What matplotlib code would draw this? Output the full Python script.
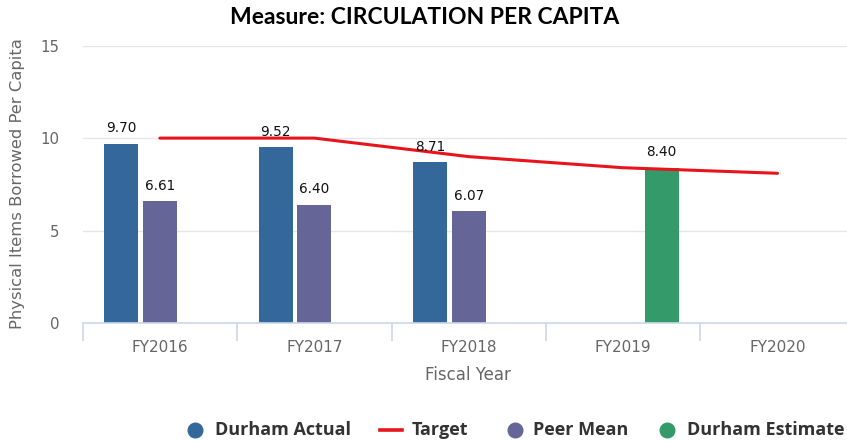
import matplotlib
matplotlib.use("Agg")
import matplotlib.pyplot as plt
from matplotlib.lines import Line2D
import numpy as np

plt.rcParams["font.family"] = ["DejaVu Sans"]

categories = ["FY2016", "FY2017", "FY2018", "FY2019", "FY2020"]
durham_actual = [9.70, 9.52, 8.71, None, None]
peer_mean = [6.61, 6.40, 6.07, None, None]
durham_estimate = [None, None, None, 8.40, None]
target = [10.0, 10.0, 9.0, 8.4, 8.1]
legend_labels = ["Durham Actual", "Target", "Peer Mean", "Durham Estimate"]

c_actual = "#34679a"
c_peer = "#656597"
c_est = "#349a6a"
c_target = "#e8141b"

fig = plt.figure(figsize=(8.47, 4.41), dpi=100)
W, H = 847, 441
left, right, top, bottom = 82.7, 854.7, 45.5, 323.3
ax = fig.add_axes([left / W, 1 - bottom / H, (right - left) / W, (bottom - top) / H])

x = np.arange(len(categories))
bw = 0.22
off = 0.25

def draw_bars(vals, dx, color):
    xs = [xi + dx for xi, v in zip(x, vals) if v is not None]
    vs = [v for v in vals if v is not None]
    ax.bar(xs, vs, width=bw, color=color, zorder=2)
    for xi, v in zip(xs, vs):
        ax.text(xi, v + 0.45, f"{v:.2f}", ha="center", va="bottom",
                fontsize=9.8, color="#111111", zorder=4)

draw_bars(durham_actual, -off, c_actual)
draw_bars(peer_mean, 0, c_peer)
draw_bars(durham_estimate, off, c_est)

ax.plot(x, target, color=c_target, lw=2.2, zorder=3, solid_capstyle="round",
        solid_joinstyle="round")

ax.set_xlim(-0.5, len(categories) - 0.5)
ax.set_ylim(0, 15)
ax.set_yticks([0, 5, 10, 15])
ax.yaxis.grid(True, color="#e6e6e6", lw=1)
ax.set_axisbelow(True)
for s in ["top", "right", "left"]:
    ax.spines[s].set_visible(False)
ax.spines["bottom"].set_color("#ccd6eb")
ax.spines["bottom"].set_linewidth(1.2)

ax.set_xticks(x)
ax.set_xticklabels(categories)
ax.set_xticks(np.arange(len(categories) + 1) - 0.5, minor=True)
ax.tick_params(axis="x", which="major", length=0, pad=12, labelsize=11, labelcolor="#666666")
ax.tick_params(axis="x", which="minor", length=13, color="#ccd6eb", width=1.2)
ax.tick_params(axis="y", length=0, pad=17, labelsize=10.8, labelcolor="#666666")

fig.text(18 / W, 1 - 184 / H, "Physical Items Borrowed Per Capita", rotation=90,
         ha="center", va="center", fontsize=11.8, color="#666666")
fig.text(468 / W, 1 - 375 / H, "Fiscal Year", ha="center", va="center",
         fontsize=12, color="#666666")

fig.text(425 / W, 1 - 18 / H, "Measure: CIRCULATION PER CAPITA", ha="center", va="center",
         fontsize=16.5, fontweight="bold", family="Lato", color="#000000")

# Legend, laid out item by item (pixel positions of the legend row)
ly = 1 - 430 / H
items = [
    ("o", c_actual, 195, 215),
    ("-", c_target, (380, 402), 412),
    ("o", c_peer, 515, 533),
    ("o", c_est, 667, 687),
]
for (kind, col, mx, tx0), lab in zip(items, legend_labels):
    if kind == "o":
        fig.add_artist(Line2D([mx / W], [ly], marker="o", ls="none", color=col,
                              markersize=10.5, transform=fig.transFigure))
    else:
        fig.add_artist(Line2D([mx[0] / W, mx[1] / W], [ly, ly], color=col, lw=2.6,
                              transform=fig.transFigure))
    fig.text(tx0 / W, ly, lab, ha="left", va="center", family="Open Sans",
             fontweight="bold", fontsize=13, color="#333333")

fig.savefig("out.png", dpi=100)
